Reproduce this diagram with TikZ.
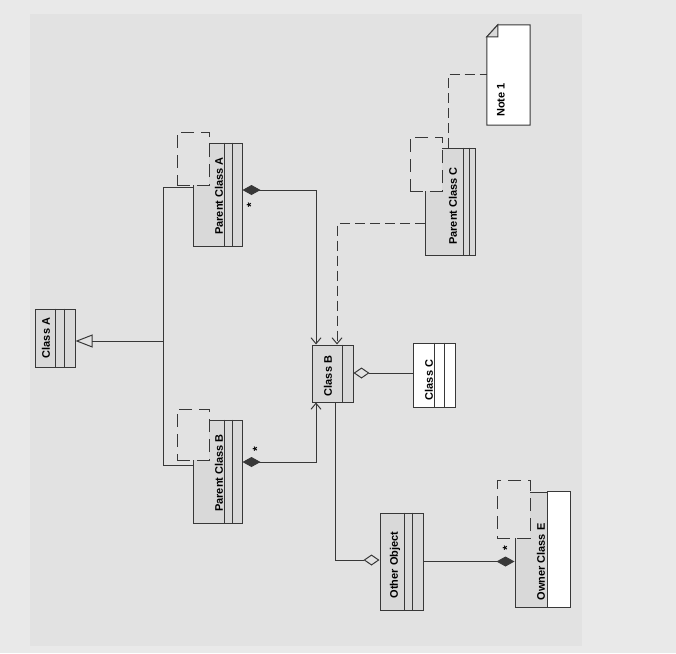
\documentclass[tikz,border=0pt]{standalone}
\usepackage{fontspec}
\setmainfont{Liberation Sans}
\usetikzlibrary{arrows.meta,calc}
\definecolor{ink}{HTML}{383838}
\definecolor{canvas}{HTML}{E2E2E2}
\definecolor{outer}{HTML}{E9E9E9}
\definecolor{boxgray}{HTML}{D9D9D9}

\begin{document}
\begin{tikzpicture}[
    x=1pt, y=-1pt,
    cbox/.style={rectangle, draw=ink, fill=boxgray, line width=1pt, inner sep=0pt},
    wbox/.style={cbox, fill=white},
    tbox/.style={rectangle, draw=ink, fill=canvas, line width=1pt,
                 dash pattern=on 13pt off 7pt, inner sep=0pt},
    lbl/.style={rotate=90, font=\bfseries\fontsize{11}{13}\selectfont, inner sep=1pt},
    mult/.style={rotate=90, font=\bfseries\fontsize{12}{12}\selectfont, inner sep=1pt},
    cpt/.style={draw=ink, line width=1pt},
    arr/.style={draw=ink, line width=1pt},
    gen/.style={arr, -{Triangle[open, length=17pt, width=13pt]}},
    comp/.style={arr, {Diamond[length=18pt, width=10pt]}-{Straight Barb[length=6pt, width=10pt]}},
    own/.style={arr, -{Diamond[length=18pt, width=10pt]}},
    agg/.style={arr, -{Diamond[open, length=16pt, width=11pt]}},
    dep/.style={arr, dash pattern=on 10pt off 5pt, -{Straight Barb[length=6pt, width=10pt]}},
    anc/.style={arr, dash pattern=on 10pt off 5pt}
  ]
    \useasboundingbox (0,0) rectangle (676,653);
    \fill[outer] (0,0) rectangle (676,653);
    \fill[canvas] (30,14) rectangle (582,646);

    %--- classes ---
    \node[cbox, minimum width=40pt, minimum height=58pt]  (clsA) at (55,338) {};
    \node[cbox, minimum width=49pt, minimum height=103pt] (pcA)  at (217.5,194.5) {};
    \node[cbox, minimum width=49pt, minimum height=103pt] (pcB)  at (217.5,471.5) {};
    \node[cbox, minimum width=41pt, minimum height=57pt]  (clsB) at (332.5,373.5) {};
    \node[wbox, minimum width=42pt, minimum height=64pt]  (clsC) at (434,375) {};
    \node[cbox, minimum width=50pt, minimum height=107pt] (pcC)  at (450,201.5) {};
    \node[cbox, minimum width=43pt, minimum height=97pt]  (oth)  at (401.5,561.5) {};
    \node[cbox, minimum width=55pt, minimum height=115pt] (ownE) at (542.5,549.5) {};

    %--- compartments ---
    \draw[cpt] ([xshift=21pt]clsA.north west) -- ([xshift=21pt]clsA.south west);
    \draw[cpt] ([xshift=30pt]clsA.north west) -- ([xshift=30pt]clsA.south west);
    \draw[cpt] ([xshift=32pt]pcA.north west) -- ([xshift=32pt]pcA.south west);
    \draw[cpt] ([xshift=40pt]pcA.north west) -- ([xshift=40pt]pcA.south west);
    \draw[cpt] ([xshift=32pt]pcB.north west) -- ([xshift=32pt]pcB.south west);
    \draw[cpt] ([xshift=40pt]pcB.north west) -- ([xshift=40pt]pcB.south west);
    \draw[cpt] ([xshift=31pt]clsB.north west) -- ([xshift=31pt]clsB.south west);
    \draw[cpt] ([xshift=22pt]clsC.north west) -- ([xshift=22pt]clsC.south west);
    \draw[cpt] ([xshift=32pt]clsC.north west) -- ([xshift=32pt]clsC.south west);
    \draw[cpt] ([xshift=39pt]pcC.north west) -- ([xshift=39pt]pcC.south west);
    \draw[cpt] ([xshift=45pt]pcC.north west) -- ([xshift=45pt]pcC.south west);
    \draw[cpt] ([xshift=25pt]oth.north west) -- ([xshift=25pt]oth.south west);
    \draw[cpt] ([xshift=33pt]oth.north west) -- ([xshift=33pt]oth.south west);
    \draw[cpt, fill=white] ([xshift=33pt]ownE.north west) rectangle (ownE.south east);

    %--- template parameters ---
    \node[tbox, minimum width=32pt, minimum height=53pt] (tA) at (193,158.5) {};
    \node[tbox, minimum width=32pt, minimum height=51pt] (tB) at (193,434.5) {};
    \node[tbox, minimum width=32pt, minimum height=54pt] (tC) at (426,164) {};
    \node[tbox, minimum width=33pt, minimum height=58pt] (tE) at (513.5,509) {};

    %--- note ---
    \node[minimum width=43pt, minimum height=100pt, inner sep=0pt] (note1) at (508.5,75) {};
    \draw[arr, fill=white] ([yshift=-12pt]note1.north west) -- ([xshift=11pt]note1.north west)
        -- (note1.north east) -- (note1.south east) -- (note1.south west) -- cycle;
    \draw[arr, fill=boxgray] ([yshift=-12pt]note1.north west) -- ([xshift=11pt]note1.north west)
        -- ([xshift=11pt, yshift=-12pt]note1.north west) -- cycle;

    %--- names ---
    \node[lbl] (clsAn) at (46,338)  {Class A};
    \node[lbl] (pcAn)  at (219,196) {Parent Class A};
    \node[lbl] (pcBn)  at (219,473) {Parent Class B};
    \node[lbl] (clsBn) at (328,376) {Class B};
    \node[lbl] (clsCn) at (429,380) {Class C};
    \node[lbl] (pcCn)  at (453,206) {Parent Class C};
    \node[lbl] (othn)  at (395,565) {Other Object};
    \node[lbl] (ownEn) at (541,562) {Owner Class E};
    \node[lbl, anchor=west] (note1n) at (501,118) {Note 1};

    %--- connectors ---
    \coordinate (jtop) at (163,187);
    \coordinate (jmid) at (163,341);
    \coordinate (jbot) at (163,465);
    \draw[arr] (pcA.west |- jtop) -- (jtop) -- (jbot) -- (pcB.west |- jbot);
    \draw[gen] (jmid) -- (clsA.east |- jmid);

    \coordinate (ka) at (316,190);
    \coordinate (kb) at (316,462);
    \coordinate (kc) at (337,223);
    \coordinate (ke) at (335,560);
    \coordinate (kn) at (448,74);
    \draw[comp] (pcA.east |- ka) -- (ka) -- (ka |- clsB.north);
    \draw[comp] (pcB.east |- kb) -- (kb) -- (kb |- clsB.south);
    \draw[dep]  (pcC.west |- kc) -- (kc) -- (kc |- clsB.north);
    \draw[agg]  (clsC.west |- 0,373) -- (clsB.east |- 0,373);
    \draw[agg]  (clsB.south -| ke) -- (ke) -- (oth.west |- ke);
    \draw[own]  (oth.east) -- (ownE.west |- oth.east);
    \draw[anc]  (pcC.north -| kn) -- (kn) -- (note1.west |- kn);

    %--- multiplicities ---
    \node[mult] (mA) at (251,205) {*};
    \node[mult] (mB) at (257,449) {*};
    \node[mult] (mE) at (507,548) {*};
\end{tikzpicture}
\end{document}
